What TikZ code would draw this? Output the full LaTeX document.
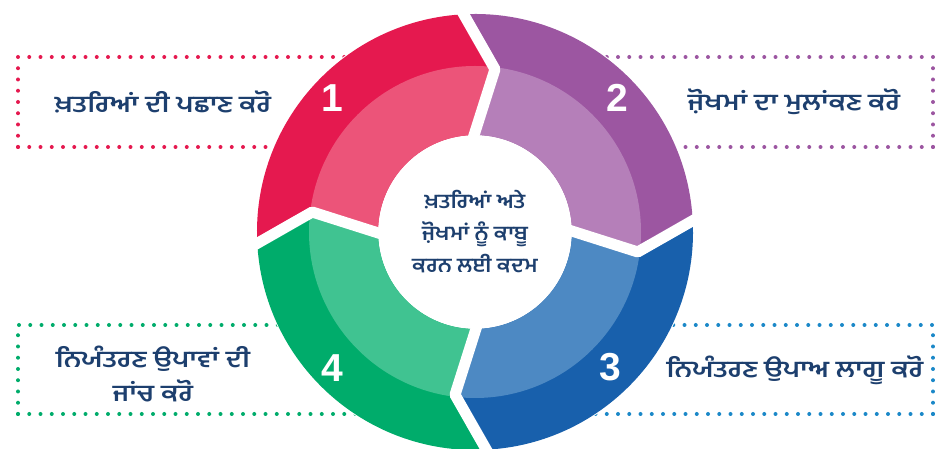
\documentclass[tikz,border=0pt]{standalone}
\usepackage{fontspec}
\usepackage{tikz}
\usetikzlibrary{calc}
\newfontfamily\pafont[Script=Gurmukhi,FakeStretch=1.1]{Hind Jalandhar}
\newfontfamily\pafontlarge[Script=Gurmukhi,FakeStretch=1.2]{Hind Jalandhar}
\newfontfamily\numfont{Liberation Sans}
\definecolor{rougefonce}{HTML}{E5194F}
\definecolor{rougeclair}{HTML}{EC5479}
\definecolor{violetfonce}{HTML}{9C56A1}
\definecolor{violetclair}{HTML}{B57FB9}
\definecolor{bleufonce}{HTML}{1860AC}
\definecolor{bleuclair}{HTML}{4D89C3}
\definecolor{vertfonce}{HTML}{00AC6B}
\definecolor{vertclair}{HTML}{40C391}
\definecolor{bleupoint}{HTML}{1B88C8}
\definecolor{marine}{HTML}{1D3F6E}
\tikzset{pointille/.style={
    line width=4pt,
    line cap=round,
    dash pattern=on 0pt off 11.25pt}}
\tikzset{fente/.style={
    draw=white,
    line width=11pt,
    line join=round}}
\tikzset{chiffre/.style={
    text=white,
    font=\numfont\bfseries\fontsize{39}{39}\selectfont}}
\tikzset{etiquette/.style={
    text=marine,
    align=center,
    font=\pafontlarge\bfseries\fontsize{23}{34}\selectfont}}
\tikzset{titre/.style={
    text=marine,
    align=center,
    font=\pafont\bfseries\fontsize{20}{32}\selectfont}}
% one arrow-shaped piece of the ring, starting at angle #1
\newcommand{\troncon}[1]{(#1:218) arc[start angle=#1, end angle=#1-90, radius=218]
  -- (#1-101:164) -- (#1-92:97) arc[start angle=#1-92, end angle=#1-2, radius=97]
  -- (#1-11:164) -- cycle}

\begin{document}
\begin{tikzpicture}[x=1pt,y=1pt]
\useasboundingbox (0,0) rectangle (935,449);
\coordinate (O) at (475,217);

% dotted frames behind the ring
\draw[pointille,draw=rougefonce] (18,302) -- (18,392) -- (475,392);
\draw[pointille,draw=rougefonce] (18,302) -- (475,302);
\draw[pointille,draw=violetfonce] (933,302) -- (933,392) -- (475,392);
\draw[pointille,draw=violetfonce] (933,302) -- (475,302);
\draw[pointille,draw=vertfonce] (18,35) -- (18,124) -- (475,124);
\draw[pointille,draw=vertfonce] (18,35) -- (475,35);
\draw[pointille,draw=bleupoint] (933,35) -- (933,124) -- (475,124);
\draw[pointille,draw=bleupoint] (933,35) -- (475,35);

\fill[white] (O) circle (219);

\begin{scope}[shift={(O)}]
  \fill[rougefonce] \troncon{184};
  \begin{scope} \clip \troncon{184}; \fill[rougeclair] (0,0) circle (166); \end{scope}
  \fill[violetfonce] \troncon{94};
  \begin{scope} \clip \troncon{94}; \fill[violetclair] (0,0) circle (166); \end{scope}
  \fill[bleufonce] \troncon{4};
  \begin{scope} \clip \troncon{4}; \fill[bleuclair] (0,0) circle (166); \end{scope}
  \fill[vertfonce] \troncon{-86};
  \begin{scope} \clip \troncon{-86}; \fill[vertclair] (0,0) circle (166); \end{scope}

  \draw[fente] (184:226) -- (173:164) -- (182:90);
  \draw[fente] (94:226) -- (83:164) -- (92:90);
  \draw[fente] (4:226) -- (-7:164) -- (2:90);
  \draw[fente] (-86:226) -- (-97:164) -- (-88:90);
\end{scope}

\node[chiffre] (un) at (332,351) {1};
\node[chiffre] (deux) at (617,351) {2};
\node[chiffre] (trois) at (610,82) {3};
\node[chiffre] (quatre) at (332,81) {4};

\node[etiquette] (identifier) at (163,347) {ਖ਼ਤਰਿਆਂ ਦੀ ਪਛਾਣ ਕਰੋ};
\node[etiquette] (evaluer) at (794,347) {ਜ਼ੋਖਮਾਂ ਦਾ ਮੁਲਾਂਕਣ ਕਰੋ};
\node[etiquette] (appliquer) at (795,79) {ਨਿਯੰਤਰਣ ਉਪਾਅ ਲਾਗੂ ਕਰੋ};
\node[etiquette] (verifier) at (153,75) {ਨਿਯੰਤਰਣ ਉਪਾਵਾਂ ਦੀ\\ਜਾਂਚ ਕਰੋ};
\node[titre] (centre) at (O) {ਖ਼ਤਰਿਆਂ ਅਤੇ\\ਜ਼ੋਖਮਾਂ ਨੂੰ ਕਾਬੂ\\ਕਰਨ ਲਈ ਕਦਮ};
\end{tikzpicture}
\end{document}
